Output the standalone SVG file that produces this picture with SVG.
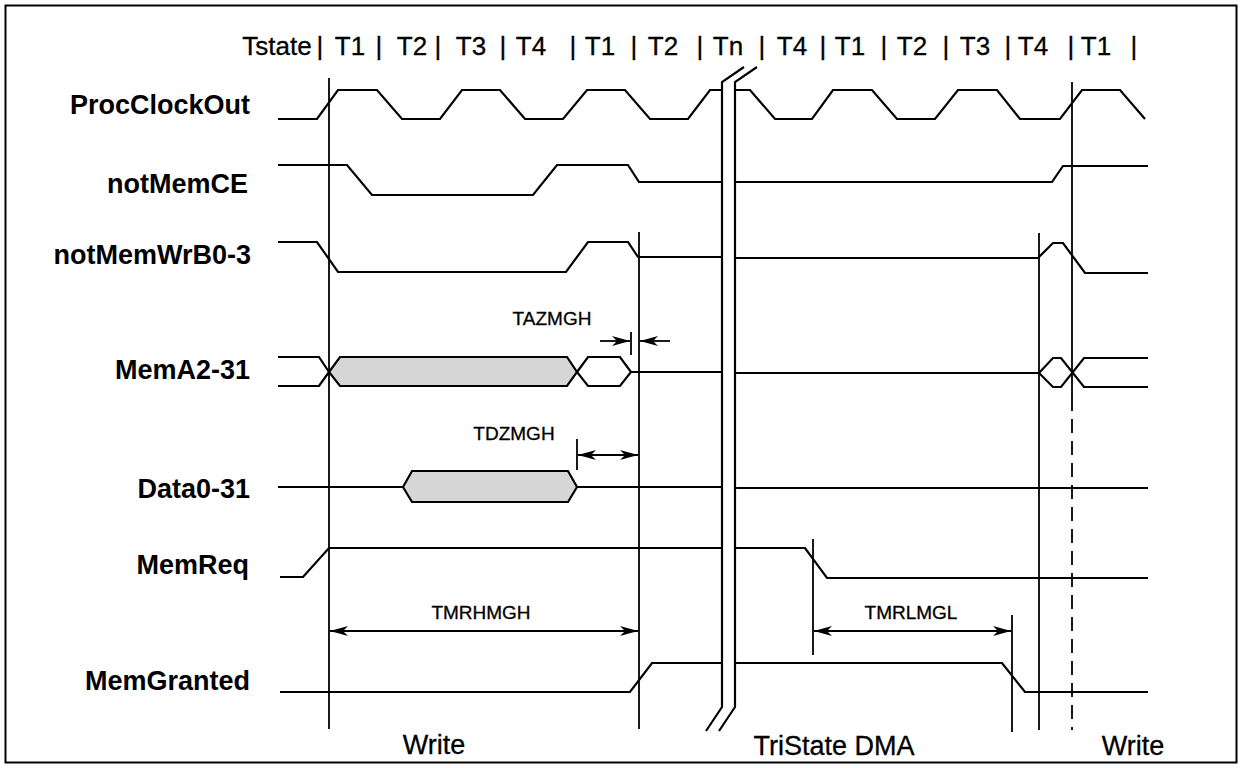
<svg xmlns="http://www.w3.org/2000/svg" width="1242" height="768" viewBox="0 0 1242 768">
<style>
.sig{fill:none;stroke:#000;stroke-width:2.2;stroke-linejoin:miter}
.shade{fill:#d6d6d6;stroke:#000;stroke-width:2.2}
.vl{fill:none;stroke:#000;stroke-width:1.8}
.dash{fill:none;stroke:#000;stroke-width:1.8;stroke-dasharray:14 8}
.arr{fill:none;stroke:#000;stroke-width:1.8}
.lbl{font-family:"Liberation Sans",Arial,sans-serif;font-weight:bold;font-size:27px;text-anchor:end;fill:#000}
.hdr{font-family:"Liberation Sans",Arial,sans-serif;font-size:26px;text-anchor:middle;fill:#000;stroke:#000;stroke-width:0.3}
.ftr{font-family:"Liberation Sans",Arial,sans-serif;font-size:27px;text-anchor:middle;fill:#000;stroke:#000;stroke-width:0.3}
.sm{font-family:"Liberation Sans",Arial,sans-serif;font-size:19px;text-anchor:middle;fill:#000;stroke:#000;stroke-width:0.3}
</style>
<defs>
<marker id="ah" viewBox="-20 -6 22 12" refX="0" refY="0" markerWidth="22" markerHeight="12" markerUnits="userSpaceOnUse" orient="auto-start-reverse">
<path d="M0,0 L-18,-5 L-13,0 L-18,5 Z" fill="#000"/>
</marker>
</defs>
<rect x="5.5" y="5.5" width="1231" height="757" fill="#fff" stroke="#000" stroke-width="2"/>

<g id="header">
<text class="hdr" x="277" y="55">Tstate</text>
<text class="hdr" x="320" y="55">|</text>
<text class="hdr" x="350" y="55">T1</text>
<text class="hdr" x="379" y="55">|</text>
<text class="hdr" x="412" y="55">T2</text>
<text class="hdr" x="438" y="55">|</text>
<text class="hdr" x="471" y="55">T3</text>
<text class="hdr" x="503" y="55">|</text>
<text class="hdr" x="531" y="55">T4</text>
<text class="hdr" x="573" y="55">|</text>
<text class="hdr" x="600" y="55">T1</text>
<text class="hdr" x="634" y="55">|</text>
<text class="hdr" x="663" y="55">T2</text>
<text class="hdr" x="700" y="55">|</text>
<text class="hdr" x="728" y="55">Tn</text>
<text class="hdr" x="762" y="55">|</text>
<text class="hdr" x="792" y="55">T4</text>
<text class="hdr" x="823" y="55">|</text>
<text class="hdr" x="850" y="55">T1</text>
<text class="hdr" x="884" y="55">|</text>
<text class="hdr" x="912" y="55">T2</text>
<text class="hdr" x="946" y="55">|</text>
<text class="hdr" x="975" y="55">T3</text>
<text class="hdr" x="1008" y="55">|</text>
<text class="hdr" x="1033" y="55">T4</text>
<text class="hdr" x="1071" y="55">|</text>
<text class="hdr" x="1096" y="55">T1</text>
<text class="hdr" x="1134" y="55">|</text>
</g>

<g id="ProcClockOut">
<text class="lbl" x="250" y="114">ProcClockOut</text>
<polyline class="sig" points="278,119 317,119 338,90 377,90 402,119 440,119 462,90 500,90 525,119 563,119 587,90 625,90 650,119 688,119 710,90 722,90"/>
<polyline class="sig" points="735,90 750,90 775,119 812,119 833,90 872,90 897,119 935,119 958,90 997,90 1020,119 1060,119 1082,90 1120,90 1145,119"/>
</g>

<g id="notMemCE">
<text class="lbl" x="248" y="193">notMemCE</text>
<polyline class="sig" points="278,165 347,165 372,195 533,195 557,165 628,165 639,182 722,182"/>
<polyline class="sig" points="735,182 1052,182 1063,166 1148,166"/>
</g>

<g id="notMemWrB0-3">
<text class="lbl" x="251" y="264">notMemWrB0-3</text>
<polyline class="sig" points="278,242 317,242 338,272 566,272 588,242 628,242 638,257 722,257"/>
<polyline class="sig" points="735,258 1038,258 1053,243 1063,243 1085,273 1148,273"/>
</g>

<g id="MemA2-31">
<text class="lbl" x="250" y="379">MemA2-31</text>
<polygon class="shade" points="329,372 340,357 567,357 577,372 567,386 340,386"/>
<polygon class="sig" points="577,372 588,357 620,357 631,372 620,386 588,386"/>
<path class="sig" d="M278,357 H319 L329,372 M278,386 H319 L329,372 M631,372 H722"/>
<path class="sig" d="M735,373 H1039 L1053,358 H1061 L1084,387 H1148 M1039,373 L1053,387 H1061 L1084,358 H1148"/>
</g>

<g id="Data0-31">
<text class="lbl" x="250" y="498">Data0-31</text>
<polygon class="shade" points="403,487 412,471 568,471 577,487 568,502 412,502"/>
<path class="sig" d="M278,487 H403 M577,487 H722 M735,488 H1148"/>
</g>

<g id="MemReq">
<text class="lbl" x="249" y="574">MemReq</text>
<polyline class="sig" points="280,577 303,577 329,548 722,548"/>
<polyline class="sig" points="735,548 805,548 827,578 1148,578"/>
</g>

<g id="MemGranted">
<text class="lbl" x="250" y="690">MemGranted</text>
<polyline class="sig" points="280,692 630,692 652,663 722,663"/>
<polyline class="sig" points="735,663 1002,663 1025,692 1148,692"/>
</g>

<g id="break">
<path class="sig" d="M744,67 L722,82 V707 L706,731 M757,67 L735,82 V707 L719,731"/>
</g>

<g id="connectors">
<line class="vl" x1="329" y1="78" x2="329" y2="729"/>
<line class="vl" x1="639" y1="232" x2="639" y2="729"/>
<line class="vl" x1="1039" y1="233" x2="1039" y2="730"/>
<line class="vl" x1="1072" y1="82" x2="1072" y2="397"/>
<line class="dash" x1="1072" y1="397" x2="1072" y2="730"/>
<line class="vl" x1="813" y1="539" x2="813" y2="655"/>
<line class="vl" x1="1012" y1="615" x2="1012" y2="732"/>
<line class="vl" x1="577" y1="439" x2="577" y2="470"/>
<line class="vl" x1="631" y1="332" x2="631" y2="355"/>
<line class="arr" x1="600" y1="341" x2="630" y2="341" marker-end="url(#ah)"/>
<line class="arr" x1="670" y1="341" x2="640" y2="341" marker-end="url(#ah)"/>
<line class="arr" x1="578" y1="455" x2="638" y2="455" marker-start="url(#ah)" marker-end="url(#ah)"/>
<line class="arr" x1="330" y1="631" x2="638" y2="631" marker-start="url(#ah)" marker-end="url(#ah)"/>
<line class="arr" x1="814" y1="631" x2="1011" y2="631" marker-start="url(#ah)" marker-end="url(#ah)"/>
</g>

<g id="timing-labels">
<text class="sm" x="552" y="325">TAZMGH</text>
<text class="sm" x="514" y="440">TDZMGH</text>
<text class="sm" x="481" y="619">TMRHMGH</text>
<text class="sm" x="911" y="619">TMRLMGL</text>
</g>

<g id="phases">
<text class="ftr" x="434" y="754">Write</text>
<text class="ftr" x="834" y="755">TriState DMA</text>
<text class="ftr" x="1133" y="755">Write</text>
</g>
</svg>
